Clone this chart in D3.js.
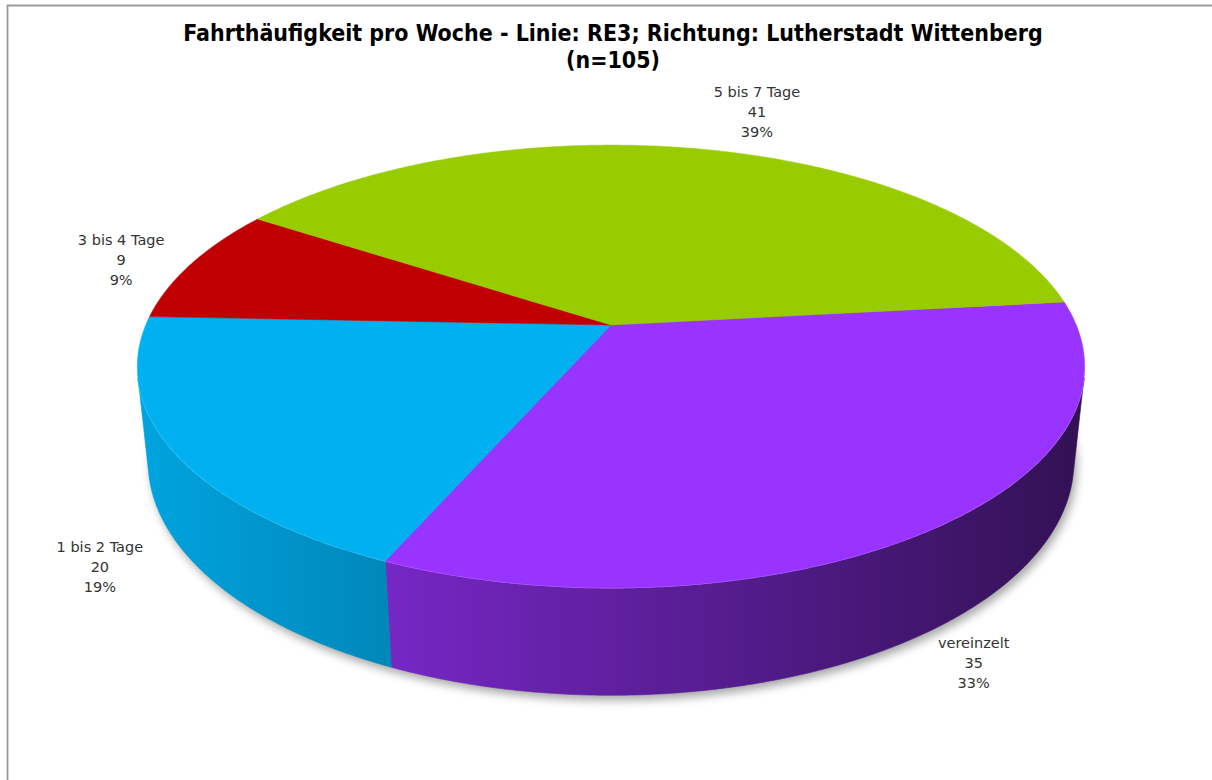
<!DOCTYPE html>
<html><head><meta charset="utf-8">
<script src="https://cdn.jsdelivr.net/npm/d3@7/dist/d3.min.js"></script>
<style>body{margin:0;background:#fff}svg{display:block}</style>
</head><body>
<script>
// ---- data ----
const categories = ["vereinzelt", "1 bis 2 Tage", "3 bis 4 Tage", "5 bis 7 Tage"];
const counts = [35, 20, 9, 41];
const sliceColors = ["#9933FF", "#00B0F0", "#C00000", "#99CC00"];
const titleLines = ["Fahrthäufigkeit pro Woche - Linie: RE3; Richtung: Lutherstadt Wittenberg", "(n=105)"];

// ---- layout ----
const W = 1212, H = 780;
const cx = 611, cy = 325;           // projected pie apex
const F = 2210, Dist = 4.75;        // perspective
const sinT = 0.459, cosT = Math.sqrt(1 - sinT * sinT);
const thick = 0.2316;               // wall height (disk radius = 1)
const startDeg = 83.7;
const labelNudge = [[9, 5], [-36, 1], [-31, 2], [47, -23]];
const titleWidth = 860;

const total = d3.sum(counts);
const svg = d3.select("body").append("svg").attr("width", W).attr("height", H);
const defs = svg.append("defs");
defs.append("filter").attr("id", "blur").attr("x", "-20%").attr("y", "-20%").attr("width", "140%").attr("height", "140%")
  .append("feGaussianBlur").attr("stdDeviation", 5);

// border
svg.append("path").attr("d", `M7.5,${H + 5} L7.5,5.5 L${W + 5},5.5`)
  .attr("fill", "none").attr("stroke", "#9a9a9a").attr("stroke-width", 1.8);

// title
const title = svg.append("text").attr("text-anchor", "middle")
  .attr("font-family", "'DejaVu Sans Condensed', 'DejaVu Sans', sans-serif").attr("font-weight", "bold")
  .attr("font-size", 20).attr("fill", "#000");
const tspans = titleLines.map((t, i) => title.append("tspan").attr("x", 613).attr("y", 41 + i * 27).text(t));
const w0 = tspans[0].node().getComputedTextLength();
title.attr("font-size", 20 * titleWidth / w0);

function proj(theta, r, h) {
  const x = r * Math.sin(theta), z = -r * Math.cos(theta);
  const w = h * sinT + z * cosT;
  const up = h * cosT - z * sinT;
  const k = F / (Dist - w);
  return [cx + x * k, cy - up * k];
}
function arcPts(a0, a1, r, h) {
  const n = Math.max(2, Math.ceil(Math.abs(a1 - a0) / (0.4 * Math.PI / 180)));
  return d3.range(n + 1).map(i => proj(a0 + (a1 - a0) * i / n, r, h));
}
const line = d3.line();

const pie = d3.pie().sort(null).value(d => d)
  .startAngle(startDeg * Math.PI / 180).endAngle(startDeg * Math.PI / 180 + 2 * Math.PI);
const arcs = pie(counts);

// shadow
const bottomOutline = arcPts(0, 2 * Math.PI, 1.0, -thick);
svg.append("path").attr("d", line(bottomOutline) + "Z")
  .attr("transform", "translate(3,5)")
  .attr("fill", "#000").attr("opacity", 0.35).attr("filter", "url(#blur)");

// visible wall range
const vis0 = Math.acos(-1 / (Dist * cosT)), vis1 = 2 * Math.PI - vis0;
const xMin = proj(vis1, 1, 0)[0], xMax = proj(vis0, 1, 0)[0];
const shade = x => 0.93 - 0.6 * (x - xMin) / (xMax - xMin);

function darker(col, f) { const c = d3.rgb(col); return d3.rgb(c.r * f, c.g * f, c.b * f).formatHex(); }

arcs.forEach((a, i) => {
  const ranges = [];
  for (const off of [0, 2 * Math.PI, -2 * Math.PI]) {
    const lo = Math.max(a.startAngle + off, vis0), hi = Math.min(a.endAngle + off, vis1);
    if (hi > lo) ranges.push([lo, hi]);
  }
  ranges.forEach(([lo, hi], j) => {
    const top = arcPts(lo, hi, 1, 0), bot = arcPts(hi, lo, 1, -thick);
    const xs = top.map(p => p[0]).concat(bot.map(p => p[0]));
    const x0 = d3.min(xs), x1 = d3.max(xs);
    const gid = `wall${i}_${j}`;
    const g = defs.append("linearGradient").attr("id", gid).attr("gradientUnits", "userSpaceOnUse")
      .attr("x1", x0).attr("x2", x1).attr("y1", 0).attr("y2", 0);
    g.append("stop").attr("offset", 0).attr("stop-color", darker(sliceColors[i], shade(x0)));
    g.append("stop").attr("offset", 1).attr("stop-color", darker(sliceColors[i], shade(x1)));
    svg.append("path").attr("d", line(top.concat(bot)) + "Z")
      .attr("fill", `url(#${gid})`).attr("stroke", `url(#${gid})`).attr("stroke-width", 0.6);
    svg.append("path").attr("d", line(top))
      .attr("fill", "none").attr("stroke", d3.interpolateRgb(sliceColors[i], "#fff")(0.3)).attr("stroke-width", 1.5);
  });
});

// top faces
arcs.forEach((a, i) => {
  const pts = [[cx, cy]].concat(arcPts(a.startAngle, a.endAngle, 1, 0));
  svg.append("path").attr("d", line(pts) + "Z")
    .attr("fill", sliceColors[i]).attr("stroke", sliceColors[i]).attr("stroke-width", 0.5).attr("stroke-linejoin", "round");
});

// labels
arcs.forEach((a, i) => {
  const m = (a.startAngle + a.endAngle) / 2;
  const h = Math.cos(m) < 0 ? -thick : 0;
  const p = proj(m, 1.1, h);
  const x = p[0] + labelNudge[i][0], y = p[1] + labelNudge[i][1];
  const pct = Math.round(counts[i] / total * 100) + "%";
  const t = svg.append("text").attr("text-anchor", "middle")
    .attr("font-family", "'DejaVu Sans', Verdana, sans-serif").attr("font-size", 14.5).attr("fill", "#333");
  [categories[i], String(counts[i]), pct].forEach((s, k) =>
    t.append("tspan").attr("x", x).attr("y", y + (k - 1) * 20 + 5).text(s));
});
</script>
</body></html>
